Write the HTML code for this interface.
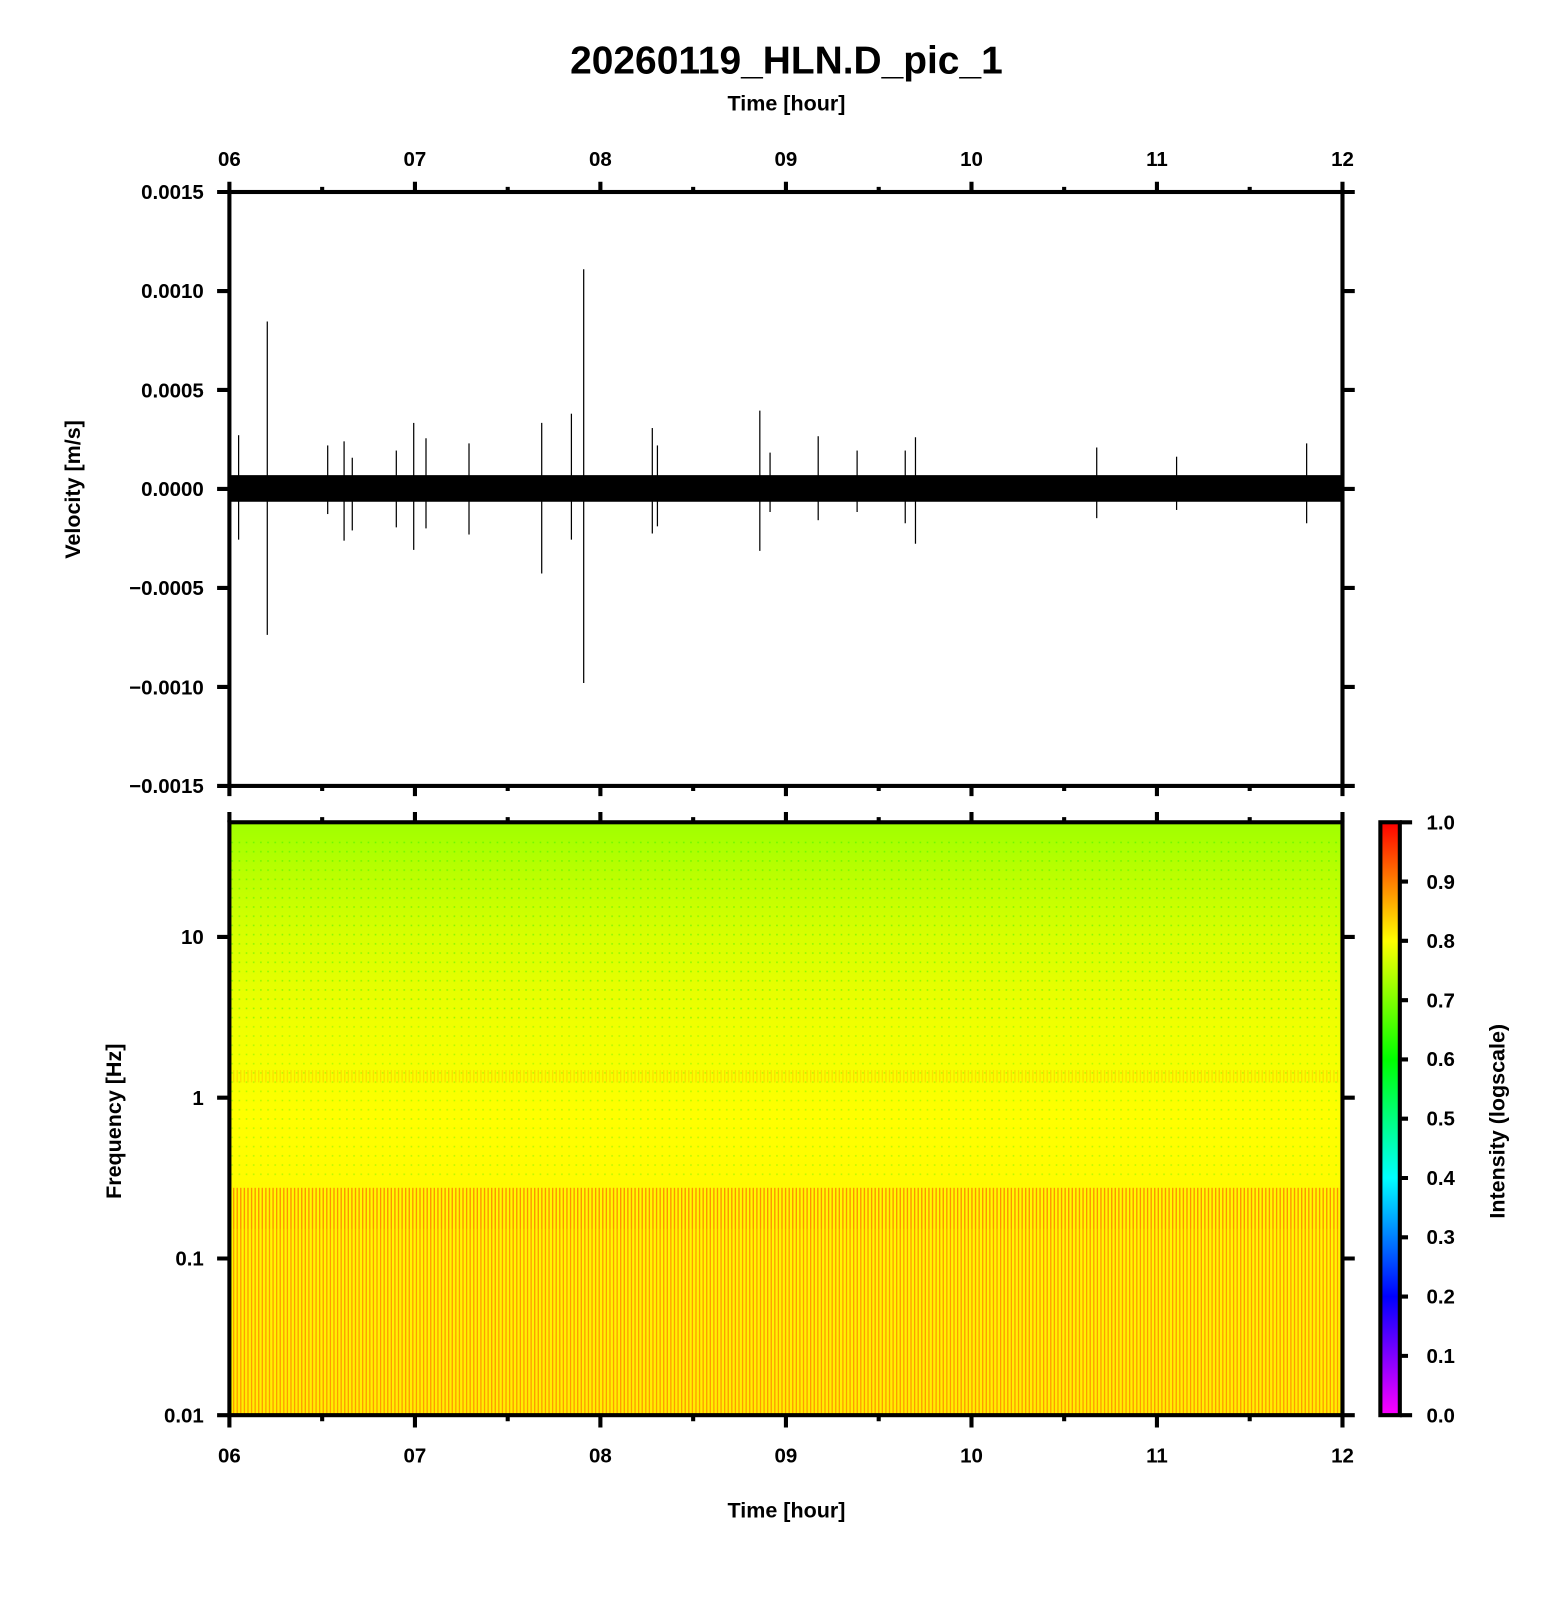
<!DOCTYPE html>
<html><head><meta charset="utf-8"><style>html,body{margin:0;padding:0;background:#fff}svg{display:block}</style></head>
<body>
<svg width="1556" height="1600" viewBox="0 0 1519.5 1562.5" xmlns="http://www.w3.org/2000/svg" font-family="Liberation Sans, sans-serif">
<defs>
<linearGradient id="spec" x1="0" y1="0" x2="0" y2="1">
<stop offset="0" stop-color="#a0ff00"/>
<stop offset="0.19" stop-color="#d8ff00"/>
<stop offset="0.34" stop-color="#f0ff00"/>
<stop offset="0.5" stop-color="#ffff00"/>
<stop offset="1" stop-color="#ffee00"/>
</linearGradient>
<linearGradient id="cb" x1="0" y1="1" x2="0" y2="0">
<stop offset="0" stop-color="#ff00ff"/>
<stop offset="0.2" stop-color="#0000ff"/>
<stop offset="0.4" stop-color="#00ffff"/>
<stop offset="0.6" stop-color="#00ff00"/>
<stop offset="0.8" stop-color="#ffff00"/>
<stop offset="1" stop-color="#ff0000"/>
</linearGradient>
<pattern id="str" width="3.5" height="10" patternUnits="userSpaceOnUse">
<rect x="0" y="0" width="1.3" height="10" fill="#ff8000"/>
</pattern>
<pattern id="dots" width="7" height="9" patternUnits="userSpaceOnUse">
<rect x="2" y="3" width="1.5" height="1.5" fill="#33ee00"/>
</pattern>
</defs>

<text x="768" y="72" font-size="38" font-weight="bold" text-anchor="middle">20260119_HLN.D_pic_1</text>
<text x="768" y="108" font-size="21" font-weight="bold" text-anchor="middle">Time [hour]</text>

<rect x="224" y="803" width="1087" height="579" fill="url(#spec)"/>
<rect x="224" y="820" width="1087" height="180" fill="url(#dots)" opacity="0.5"/>
<rect x="224" y="1000" width="1087" height="150" fill="url(#dots)" opacity="0.35"/>
<rect x="224" y="1160" width="1087" height="222" fill="url(#str)" opacity="0.75"/>
<rect x="224" y="1160" width="1087" height="40" fill="url(#str)" opacity="0.4"/>
<rect x="224" y="1045" width="1087" height="12" fill="url(#str)" opacity="0.25"/>

<rect x="1348" y="803" width="19" height="579" fill="url(#cb)" stroke="#000" stroke-width="4"/>

<g id="trace" stroke="#000" stroke-width="1.2">
<rect x="224" y="464" width="1087" height="26" fill="#000" stroke="none"/>
<line x1="233" y1="425" x2="233" y2="527"/>
<line x1="261" y1="314" x2="261" y2="620"/>
<line x1="320" y1="435" x2="320" y2="502"/>
<line x1="336" y1="431" x2="336" y2="528"/>
<line x1="344" y1="447" x2="344" y2="518"/>
<line x1="387" y1="440" x2="387" y2="515"/>
<line x1="404" y1="413" x2="404" y2="537"/>
<line x1="416" y1="428" x2="416" y2="516"/>
<line x1="458" y1="433" x2="458" y2="522"/>
<line x1="529" y1="413" x2="529" y2="560"/>
<line x1="558" y1="404" x2="558" y2="527"/>
<line x1="570" y1="263" x2="570" y2="667"/>
<line x1="637" y1="418" x2="637" y2="521"/>
<line x1="642" y1="435" x2="642" y2="514"/>
<line x1="742" y1="401" x2="742" y2="538"/>
<line x1="752" y1="442" x2="752" y2="500"/>
<line x1="799" y1="426" x2="799" y2="508"/>
<line x1="837" y1="440" x2="837" y2="500"/>
<line x1="884" y1="440" x2="884" y2="511"/>
<line x1="894" y1="427" x2="894" y2="531"/>
<line x1="1071" y1="437" x2="1071" y2="506"/>
<line x1="1149" y1="446" x2="1149" y2="498"/>
<line x1="1276" y1="433" x2="1276" y2="511"/>
</g>

<g fill="none" stroke="#000" stroke-width="4">
<rect x="224" y="187.5" width="1087" height="580"/>
<rect x="224" y="803" width="1087" height="579"/>
<path d="M224 187.5v-10M405.2 187.5v-10M586.3 187.5v-10M767.5 187.5v-10M948.7 187.5v-10M1129.8 187.5v-10M1311 187.5v-10
M314.6 187.5v-5M495.8 187.5v-5M676.9 187.5v-5M858.1 187.5v-5M1039.2 187.5v-5M1220.4 187.5v-5
M224 767.5v10M405.2 767.5v10M586.3 767.5v10M767.5 767.5v10M948.7 767.5v10M1129.8 767.5v10M1311 767.5v10
M314.6 767.5v5M495.8 767.5v5M676.9 767.5v5M858.1 767.5v5M1039.2 767.5v5M1220.4 767.5v5
M224 803v-10M405.2 803v-10M586.3 803v-10M767.5 803v-10M948.7 803v-10M1129.8 803v-10M1311 803v-10
M314.6 803v-5M495.8 803v-5M676.9 803v-5M858.1 803v-5M1039.2 803v-5M1220.4 803v-5
M224 1382v12M405.2 1382v12M586.3 1382v12M767.5 1382v12M948.7 1382v12M1129.8 1382v12M1311 1382v12
M314.6 1382v6M495.8 1382v6M676.9 1382v6M858.1 1382v6M1039.2 1382v6M1220.4 1382v6
M224 187.5h-12M224 284.2h-12M224 380.8h-12M224 477.5h-12M224 574.2h-12M224 670.8h-12M224 767.5h-12
M1311 187.5h12M1311 284.2h12M1311 380.8h12M1311 477.5h12M1311 574.2h12M1311 670.8h12M1311 767.5h12
M224 915h-12M224 1072h-12M224 1229h-12M224 1382h-12
M1311 915h12M1311 1072h12M1311 1229h12M1311 1382h12
M1367 803h12M1367 860.9h8M1367 918.8h8M1367 976.7h8M1367 1034.6h8M1367 1092.5h8M1367 1150.4h8M1367 1208.3h8M1367 1266.2h8M1367 1324.1h8M1367 1382h12"/>
</g>

<g font-size="20" font-weight="bold" text-anchor="middle">
<text x="224" y="162">06</text><text x="405.2" y="162">07</text><text x="586.3" y="162">08</text><text x="767.5" y="162">09</text><text x="948.7" y="162">10</text><text x="1129.8" y="162">11</text><text x="1311" y="162">12</text>
<text x="224" y="1428">06</text><text x="405.2" y="1428">07</text><text x="586.3" y="1428">08</text><text x="767.5" y="1428">09</text><text x="948.7" y="1428">10</text><text x="1129.8" y="1428">11</text><text x="1311" y="1428">12</text>
</g>
<g font-size="20" font-weight="bold" text-anchor="end">
<text x="199" y="194.5">0.0015</text><text x="199" y="291">0.0010</text><text x="199" y="388">0.0005</text><text x="199" y="484.5">0.0000</text><text x="199" y="581">−0.0005</text><text x="199" y="678">−0.0010</text><text x="199" y="774.5">−0.0015</text>
<text x="199" y="922">10</text><text x="199" y="1079">1</text><text x="199" y="1236">0.1</text><text x="199" y="1389">0.01</text>
</g>
<g font-size="20" font-weight="bold">
<text x="1393" y="810">1.0</text><text x="1393" y="868">0.9</text><text x="1393" y="926">0.8</text><text x="1393" y="984">0.7</text><text x="1393" y="1041">0.6</text><text x="1393" y="1099">0.5</text><text x="1393" y="1157">0.4</text><text x="1393" y="1215">0.3</text><text x="1393" y="1273">0.2</text><text x="1393" y="1331">0.1</text><text x="1393" y="1389">0.0</text>
</g>
<text x="768" y="1482" font-size="21" font-weight="bold" text-anchor="middle">Time [hour]</text>
<text transform="translate(78,478) rotate(-90)" font-size="21" font-weight="bold" text-anchor="middle">Velocity [m/s]</text>
<text transform="translate(118,1095) rotate(-90)" font-size="21" font-weight="bold" text-anchor="middle">Frequency [Hz]</text>
<text transform="translate(1469,1095) rotate(-90)" font-size="21" font-weight="bold" text-anchor="middle">Intensity (logscale)</text>
</svg>
</body></html>
